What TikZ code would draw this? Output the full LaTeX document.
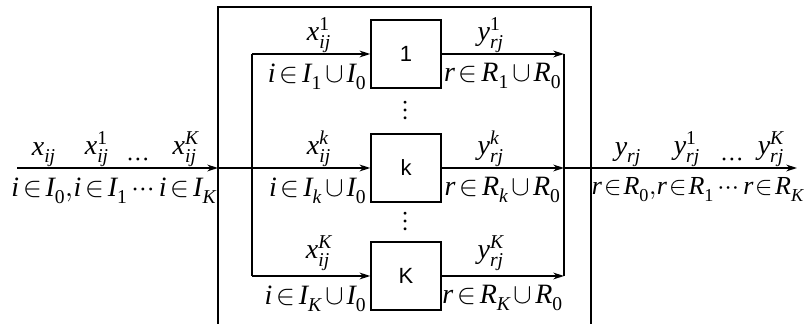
\documentclass[tikz,border=0pt]{standalone}
\usepackage{amsmath}
\usepackage{fontspec}
\usepackage{unicode-math}
\setmainfont{Liberation Serif}
\setmathfont{latinmodern-math.otf}
\setmathfont[range={it->up}]{Liberation Serif Italic}
\setmathfont[range={up/num}]{Liberation Serif}
\newfontfamily\unitfont{Liberation Sans}
\usepackage{tikz}
\usetikzlibrary{arrows.meta, positioning, calc}
\tikzset{
	unit/.style ={rectangle, draw=black, line width=0.7pt, minimum width=35pt, minimum height=34pt, inner sep=0pt, font=\unitfont\fontsize{11}{13}\selectfont},
	sig/.style  ={-{Stealth[length=1.9mm, width=1.2mm]}, line width=0.7pt},
	wire/.style ={line width=0.7pt},
	lbl/.style  ={inner sep=0.6pt, font=\fontsize{14}{16}\selectfont},
}

\begin{document}
\thickmuskip=2.5mu\relax
\medmuskip=1.8mu\relax
\begin{tikzpicture}[x=0.5pt, y=-0.5pt]
	\useasboundingbox (0,0) rectangle (805,324);
	% outer frame
	\coordinate (fbl) at (218,324);
	\coordinate (ftl) at (218,7);
	\coordinate (ftr) at (591,7);
	\coordinate (fbr) at (591,324);
	\draw[wire] (fbl) -- (ftl) -- (ftr) -- (fbr);
	% units
	\node[unit] (b1) at (406,54)  {1};
	\node[unit] (bk) at (406,168) {k};
	\node[unit] (bK) at (406,276) {K};
	\node[lbl, inner sep=0pt] (d1) at ($(b1)!0.5!(bk)$) {$\vdots$};
	\node[lbl, inner sep=0pt] (d2) at ($(bk)!0.5!(bK)$) {$\vdots$};
	% input side
	\coordinate (in)   at (17,168);
	\coordinate (lft)  at (218,168);
	\coordinate (busL) at (252,168);
	\draw[sig] (in) -- (lft);
	\draw[wire] (lft) -- (busL);
	\draw[wire] (busL |- b1) -- (busL |- bK);
	\foreach \b in {b1,bk,bK}
		\draw[sig] (busL |- \b.west) -- (\b.west);
	% output side
	\coordinate (busR) at (564,168);
	\coordinate (out)  at (797,168);
	\foreach \b in {b1,bk,bK}
		\draw[sig] (\b.east) -- (busR |- \b.east);
	\draw[wire] (busR |- b1) -- (busR |- bK);
	\draw[sig] (busR) -- (out);
	% flows in
	\node[lbl, above] at (44,168)  {$x_{ij}$};
	\node[lbl, above] at (97,168)  {$x^{1}_{ij}$};
	\node[lbl, above] at (138,168) {$\cdots$};
	\node[lbl, above] at (186,168) {$x^{K}_{ij}$};
	\node[lbl, below=4pt] at (114,168) {$i\in I_0{,}i\in I_1\cdots i\in I_K$};
	\node[lbl, above, xshift=4pt] at ($(busL |- b1)!0.5!(b1.west)$) {$x^{1}_{ij}$};
	\node[lbl, below left=4pt and 1pt] at (b1.west) {$i\in I_1\cup I_0$};
	\node[lbl, above, xshift=4pt] at ($(busL |- bk)!0.5!(bk.west)$) {$x^{k}_{ij}$};
	\node[lbl, below left=4pt and 1pt] at (bk.west) {$i\in I_k\cup I_0$};
	\node[lbl, above, xshift=4pt, yshift=2pt] at ($(busL |- bK)!0.5!(bK.west)$) {$x^{K}_{ij}$};
	\node[lbl, below left=4pt and 1pt] at (bK.west) {$i\in I_K\cup I_0$};
	% flows out
	\node[lbl, above, xshift=-6pt] at ($(b1.east)!0.5!(busR |- b1)$) {$y^{1}_{rj}$};
	\node[lbl, below=4pt] at ($(b1.east)!0.5!(busR |- b1)$) {$r\in R_1\cup R_0$};
	\node[lbl, above, xshift=-6pt] at ($(bk.east)!0.5!(busR |- bk)$) {$y^{k}_{rj}$};
	\node[lbl, below=4pt] at ($(bk.east)!0.5!(busR |- bk)$) {$r\in R_k\cup R_0$};
	\node[lbl, above, xshift=-6pt, yshift=2pt] at ($(bK.east)!0.5!(busR |- bK)$) {$y^{K}_{rj}$};
	\node[lbl, below=4pt] at ($(bK.east)!0.5!(busR |- bK)$) {$r\in R_K\cup R_0$};
	\node[lbl, above] at (628,168) {$y_{rj}$};
	\node[lbl, above] at (687,168) {$y^{1}_{rj}$};
	\node[lbl, above] at (732,168) {$\cdots$};
	\node[lbl, above] at (771,168) {$y^{K}_{rj}$};
	\node[lbl, below=4pt, font=\fontsize{13}{15}\selectfont] at (698,168) {$\thickmuskip=1.5mu r\in R_0{,}r\in R_1\cdots r\in R_K$};
\end{tikzpicture}
\end{document}
